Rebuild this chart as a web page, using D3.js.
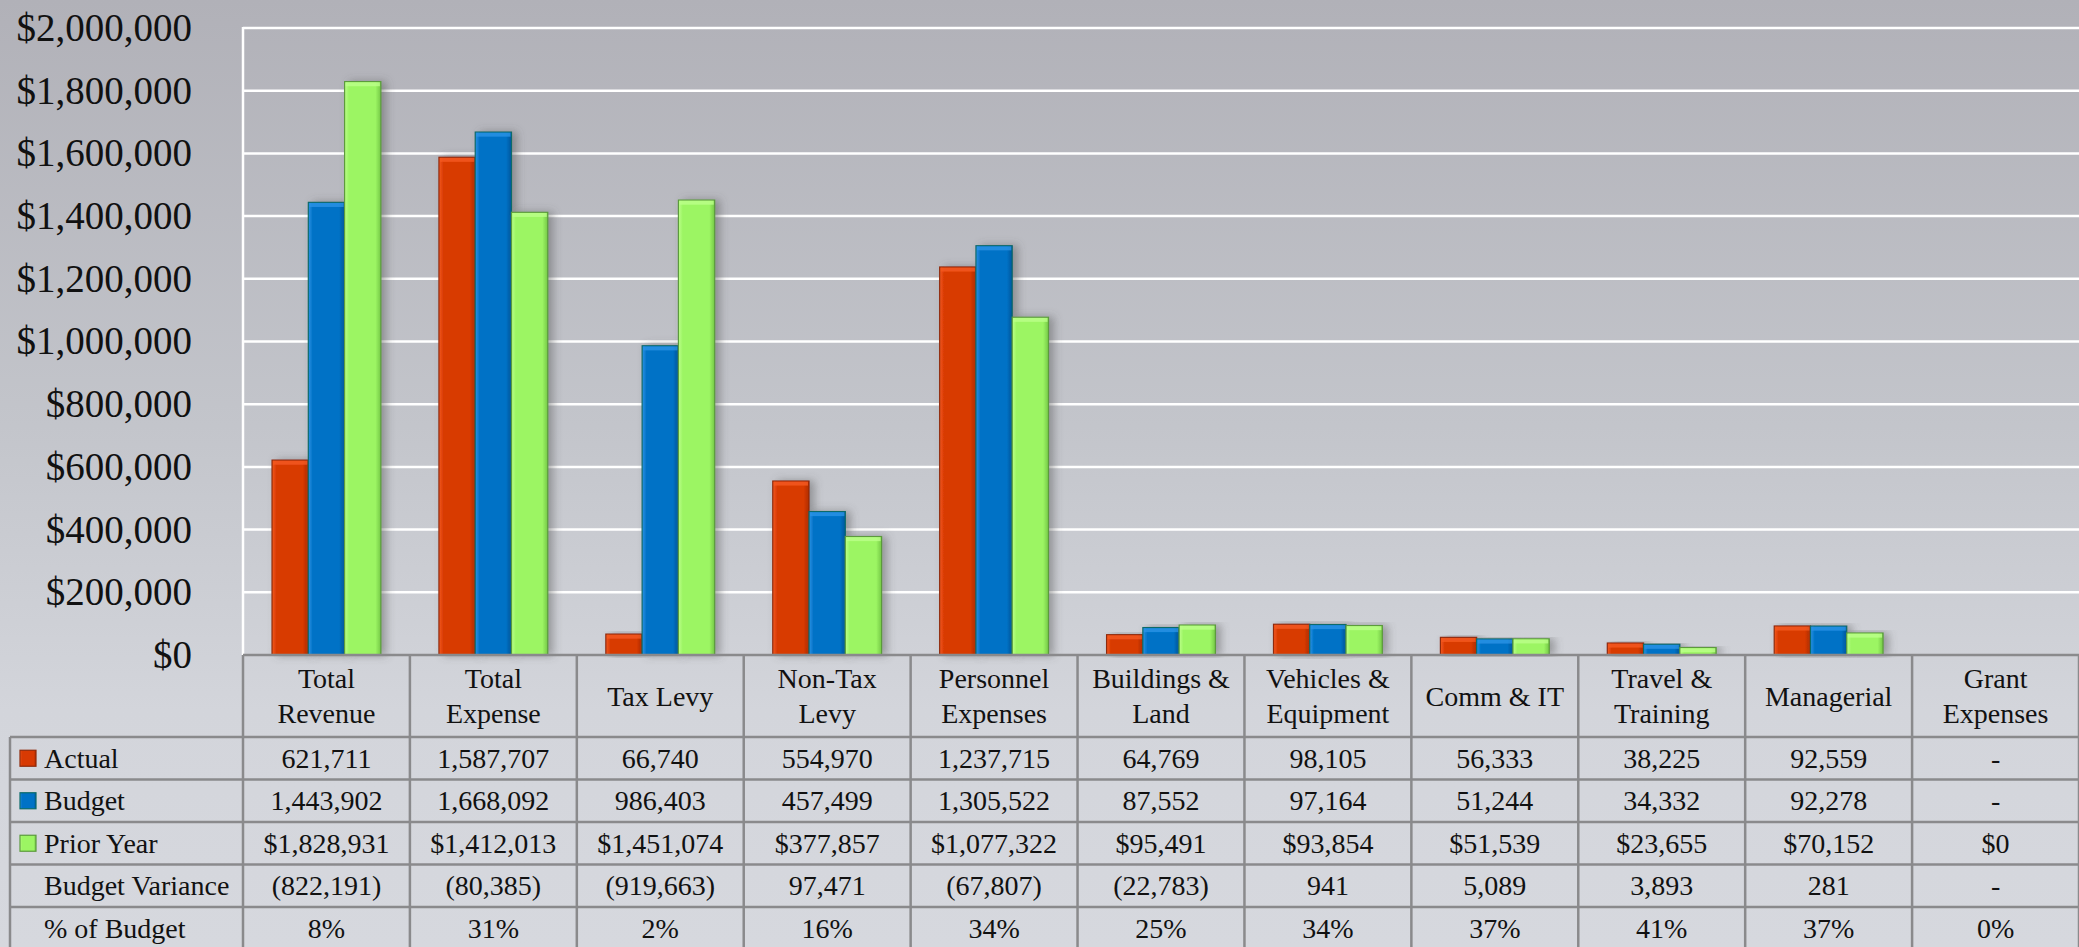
<!DOCTYPE html>
<html>
<head>
<meta charset="utf-8">
<script src="https://cdn.jsdelivr.net/npm/d3@7"></script>
<style>
    html, body { margin: 0; padding: 0; overflow: hidden; }
</style>
</head>
<body>
<script>
    // chart data
    var categories = ["Total Revenue", "Total Expense", "Tax Levy", "Non-Tax Levy", "Personnel Expenses",
        "Buildings & Land", "Vehicles & Equipment", "Comm & IT", "Travel & Training", "Managerial", "Grant Expenses"];
    var headerLines = [["Total", "Revenue"], ["Total", "Expense"], ["Tax Levy"], ["Non-Tax", "Levy"],
        ["Personnel", "Expenses"], ["Buildings &", "Land"], ["Vehicles &", "Equipment"], ["Comm & IT"],
        ["Travel &", "Training"], ["Managerial"], ["Grant", "Expenses"]];
    var seriesNames = ["Actual", "Budget", "Prior Year"];
    var actual = [621711, 1587707, 66740, 554970, 1237715, 64769, 98105, 56333, 38225, 92559, null];
    var budget = [1443902, 1668092, 986403, 457499, 1305522, 87552, 97164, 51244, 34332, 92278, null];
    var priorYear = [1828931, 1412013, 1451074, 377857, 1077322, 95491, 93854, 51539, 23655, 70152, 0];
    var budgetVariance = [-822191, -80385, -919663, 97471, -67807, -22783, 941, 5089, 3893, 281, null];
    var pctOfBudget = [8, 31, 2, 16, 34, 25, 34, 37, 41, 37, 0];
    var yTicks = [0, 200000, 400000, 600000, 800000, 1000000, 1200000, 1400000, 1600000, 1800000, 2000000];

    const CANVAS = { WIDTH: 2079, HEIGHT: 947 };
    const PLOT = { LEFT: 243, RIGHT: 2079, TOP: 28, BOTTOM: 655 };
    const TABLE = { LEFT: 10, HEADER_BOTTOM: 737, ROW: 42.5 };
    const FONT = "'Liberation Serif', 'Times New Roman', 'DejaVu Serif', serif";
    const COLORS = {
        "Actual": { mid: "#d83a03", light: "#f55a20", dark: "#b02c00", edge: "#8f2a0a" },
        "Budget": { mid: "#0072c6", light: "#2b93e6", dark: "#00579c", edge: "#0b6a6a" },
        "Prior Year": { mid: "#9cf563", light: "#bcff8a", dark: "#74c846", edge: "#5b9a3c" }
    };

    var fmtNum = d3.format(",");
    var fmtMoney = d3.format("$,");

    var rows = [
        { name: "Actual", key: true, cells: actual.map(function(v) { return v == null ? "-" : fmtNum(v); }) },
        { name: "Budget", key: true, cells: budget.map(function(v) { return v == null ? "-" : fmtNum(v); }) },
        { name: "Prior Year", key: true, cells: priorYear.map(function(v) { return fmtMoney(v); }) },
        { name: "Budget Variance", key: false, cells: budgetVariance.map(function(v) {
            if (v == null) return "-";
            return v < 0 ? "(" + fmtNum(-v) + ")" : fmtNum(v);
        }) },
        { name: "% of Budget", key: false, cells: pctOfBudget.map(function(v) { return v + "%"; }) }
    ];

    var x = d3.scaleBand().domain(categories).range([PLOT.LEFT, PLOT.RIGHT]);
    var xs = d3.scaleBand().domain(seriesNames).range([0, x.bandwidth()]).paddingOuter(0.8);
    var y = d3.scaleLinear().domain([0, 2000000]).range([PLOT.BOTTOM, PLOT.TOP]);

    // serif text helper
    function serif(sel, size) {
        return sel.style("font-family", FONT)
            .style("font-size", size + "px")
            .style("fill", "#111");
    }

    var canvas = d3.select("body").append("svg")
        .attr("width", CANVAS.WIDTH)
        .attr("height", CANVAS.HEIGHT);

    var defs = canvas.append("defs");

    // background gradient
    var bg = defs.append("linearGradient").attr("id", "bg")
        .attr("x1", 0).attr("y1", 0).attr("x2", 0).attr("y2", 1);
    bg.append("stop").attr("offset", "0%").attr("stop-color", "#b1b1b8");
    bg.append("stop").attr("offset", "45%").attr("stop-color", "#c3c5cb");
    bg.append("stop").attr("offset", "75%").attr("stop-color", "#d3d5db");
    bg.append("stop").attr("offset", "100%").attr("stop-color", "#d6d8de");

    // bevel gradients per series
    seriesNames.forEach(function(s, i) {
        var c = COLORS[s];
        var g = defs.append("linearGradient").attr("id", "bar" + i)
            .attr("x1", 0).attr("y1", 0).attr("x2", 1).attr("y2", 0);
        g.append("stop").attr("offset", "0%").attr("stop-color", c.light);
        g.append("stop").attr("offset", "12%").attr("stop-color", c.mid);
        g.append("stop").attr("offset", "85%").attr("stop-color", c.mid);
        g.append("stop").attr("offset", "100%").attr("stop-color", c.dark);
    });

    var shadow = defs.append("filter").attr("id", "shadow")
        .attr("x", "-20%").attr("y", "-10%").attr("width", "160%").attr("height", "120%");
    shadow.append("feDropShadow")
        .attr("dx", 5).attr("dy", 0).attr("stdDeviation", 4)
        .attr("flood-color", "#555").attr("flood-opacity", 0.45);

    canvas.append("rect")
        .attr("width", CANVAS.WIDTH)
        .attr("height", CANVAS.HEIGHT)
        .attr("fill", "url(#bg)");

    // gridlines
    canvas.append("g")
        .selectAll("line")
        .data(yTicks.slice(1))
        .enter()
        .append("line")
        .attr("x1", PLOT.LEFT).attr("x2", PLOT.RIGHT)
        .attr("y1", function(d) { return y(d); })
        .attr("y2", function(d) { return y(d); })
        .attr("stroke", "#fff")
        .attr("stroke-width", 2.5);

    canvas.append("line")
        .attr("x1", PLOT.LEFT).attr("x2", PLOT.LEFT)
        .attr("y1", PLOT.TOP - 1).attr("y2", PLOT.BOTTOM)
        .attr("stroke", "#fff")
        .attr("stroke-width", 2.5);

    // y axis labels
    var axisY = d3.axisLeft(y)
        .tickValues(yTicks)
        .tickFormat(d3.format("$,"))
        .tickSize(0)
        .tickPadding(PLOT.LEFT - 192);

    var gy = canvas.append("g")
        .attr("transform", "translate(" + PLOT.LEFT + ",0)")
        .call(axisY);
    gy.select(".domain").remove();
    serif(gy.selectAll("text"), 39);

    // bars
    var barData = [];
    categories.forEach(function(c, i) {
        [actual, budget, priorYear].forEach(function(arr, j) {
            if (arr[i]) barData.push({ cat: c, series: seriesNames[j], idx: j, value: arr[i] });
        });
    });

    var bars = canvas.append("g").selectAll("g")
        .data(barData)
        .enter()
        .append("g")
        .attr("filter", "url(#shadow)");

    bars.append("rect")
        .attr("x", function(d) { return x(d.cat) + xs(d.series); })
        .attr("y", function(d) { return y(d.value); })
        .attr("width", xs.bandwidth())
        .attr("height", function(d) { return PLOT.BOTTOM - y(d.value); })
        .attr("fill", function(d) { return "url(#bar" + d.idx + ")"; })
        .attr("stroke", function(d) { return COLORS[d.series].edge; })
        .attr("stroke-width", 1.2);

    // top bevel
    bars.append("rect")
        .attr("x", function(d) { return x(d.cat) + xs(d.series) + 1; })
        .attr("y", function(d) { return y(d.value) + 0.6; })
        .attr("width", xs.bandwidth() - 2)
        .attr("height", function(d) { return Math.min(4, PLOT.BOTTOM - y(d.value) - 1); })
        .attr("fill", function(d) { return COLORS[d.series].light; })
        .attr("opacity", 0.8);

    // data table
    var table = canvas.append("g")
        .attr("stroke", "#8a8a8c")
        .attr("stroke-width", 2.5);

    var colEdges = categories.map(function(c) { return x(c); }).concat([PLOT.RIGHT]);
    var rowEdges = rows.map(function(r, i) { return TABLE.HEADER_BOTTOM + i * TABLE.ROW; })
        .concat([TABLE.HEADER_BOTTOM + rows.length * TABLE.ROW]);

    table.append("line")
        .attr("x1", PLOT.LEFT).attr("x2", PLOT.RIGHT)
        .attr("y1", PLOT.BOTTOM).attr("y2", PLOT.BOTTOM);
    table.selectAll(".hline")
        .data(rowEdges)
        .enter()
        .append("line")
        .attr("x1", TABLE.LEFT).attr("x2", PLOT.RIGHT)
        .attr("y1", function(d) { return d; })
        .attr("y2", function(d) { return d; });
    table.selectAll(".vline")
        .data(colEdges)
        .enter()
        .append("line")
        .attr("x1", function(d) { return d; })
        .attr("x2", function(d) { return d; })
        .attr("y1", PLOT.BOTTOM)
        .attr("y2", CANVAS.HEIGHT + 5);
    table.append("line")
        .attr("x1", TABLE.LEFT).attr("x2", TABLE.LEFT)
        .attr("y1", TABLE.HEADER_BOTTOM).attr("y2", CANVAS.HEIGHT + 5);

    // column headers
    var headers = canvas.append("g").selectAll("text")
        .data(categories)
        .enter()
        .append("text")
        .attr("text-anchor", "middle")
        .attr("x", function(d) { return x(d) + x.bandwidth() / 2; })
        .attr("y", function(d, i) {
            return headerLines[i].length > 1 ? 688 : 706;
        });
    serif(headers, 28);
    headers.each(function(d, i) {
        var t = d3.select(this);
        headerLines[i].forEach(function(line, k) {
            t.append("tspan")
                .attr("x", x(d) + x.bandwidth() / 2)
                .attr("dy", k === 0 ? 0 : 35)
                .text(line);
        });
    });

    // row labels, keys and values
    var rowG = canvas.append("g").selectAll("g")
        .data(rows)
        .enter()
        .append("g")
        .attr("transform", function(d, i) {
            return "translate(0," + (TABLE.HEADER_BOTTOM + i * TABLE.ROW + TABLE.ROW / 2) + ")";
        });

    rowG.filter(function(d) { return d.key; })
        .append("rect")
        .attr("x", 20)
        .attr("y", -8)
        .attr("width", 16)
        .attr("height", 16)
        .attr("fill", function(d) { return "url(#bar" + seriesNames.indexOf(d.name) + ")"; })
        .attr("stroke", function(d) { return COLORS[d.name].edge; })
        .attr("stroke-width", 1.2);

    serif(rowG.append("text"), 28)
        .attr("x", 44)
        .attr("dy", "0.34em")
        .text(function(d) { return d.name; });

    var cells = rowG.selectAll(".cell")
        .data(function(d) { return d.cells; })
        .enter()
        .append("text")
        .attr("text-anchor", "middle")
        .attr("x", function(d, i) { return x(categories[i]) + x.bandwidth() / 2; })
        .attr("dy", "0.34em")
        .text(function(d) { return d; });
    serif(cells, 28);
</script>
</body>
</html>
